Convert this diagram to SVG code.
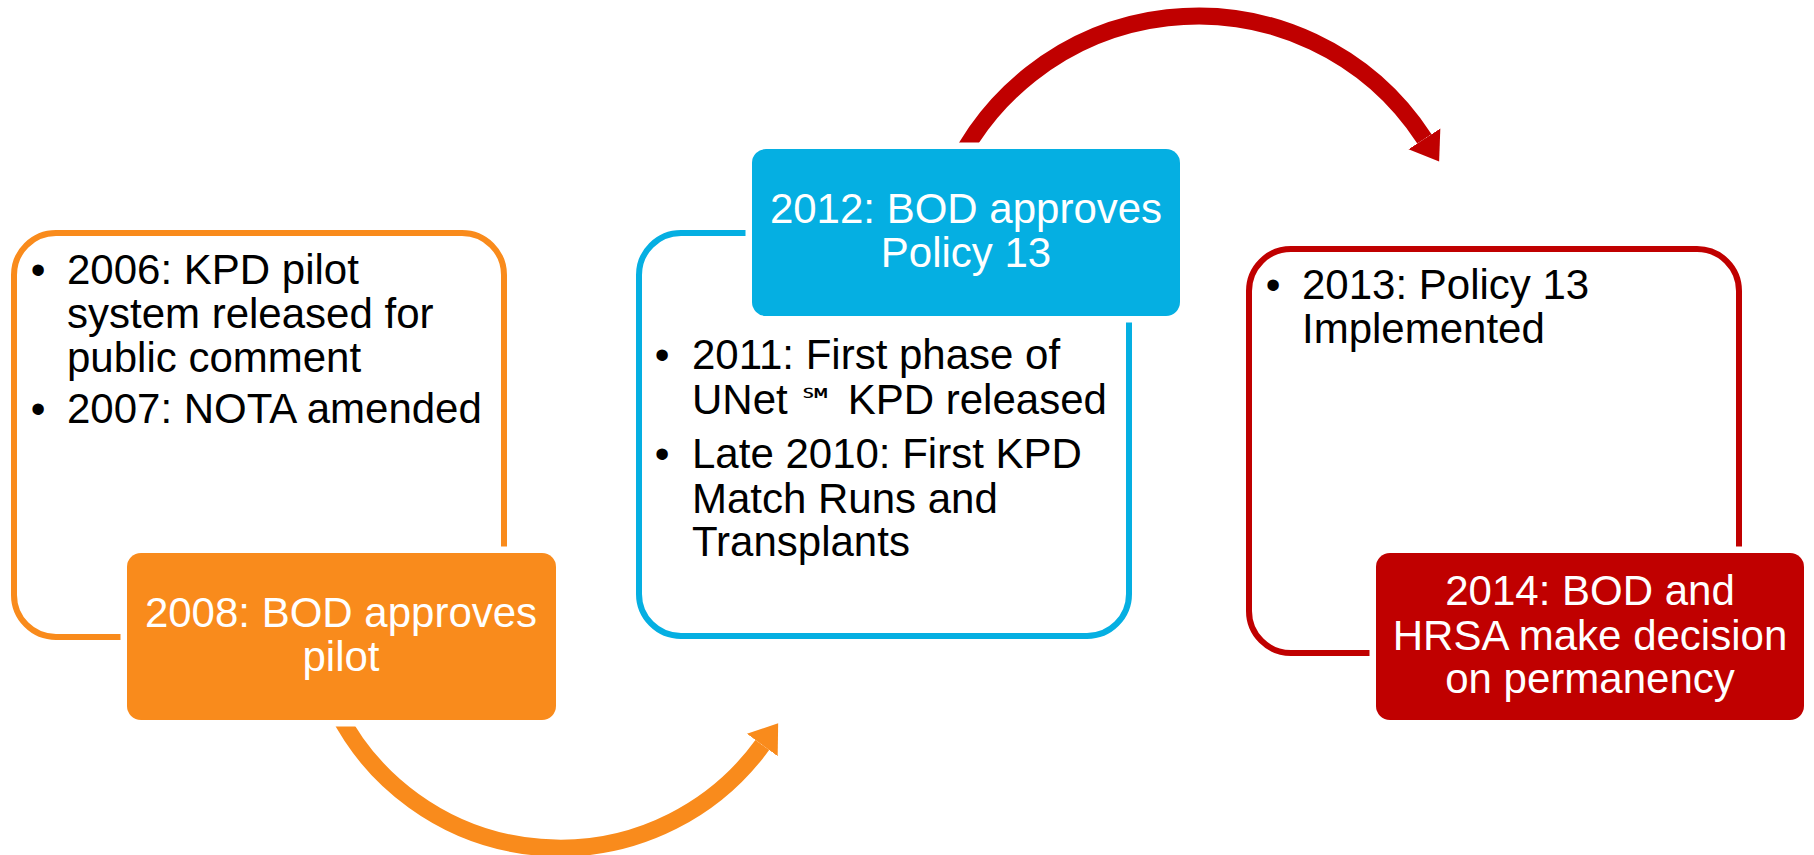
<svg xmlns="http://www.w3.org/2000/svg" width="1814" height="855" viewBox="0 0 1814 855">
  <style>
    text { font-family: "Liberation Sans", Arial, sans-serif; font-size: 42px; }
    .bul { fill: #000; }
    .ttl { fill: #fff; text-anchor: middle; }
    .dot { text-anchor: middle; }
    .outline { fill: #fff; stroke-width: 6; }
    .head { stroke: #fff; stroke-width: 13; paint-order: stroke; }
    .arc { fill: none; stroke-width: 17; }
  </style>
  <defs>
    <marker id="arrowOrange" markerUnits="userSpaceOnUse" orient="auto" viewBox="0 -20 30 40" refX="0" refY="0" markerWidth="30" markerHeight="40">
      <path d="M0,-19 L27,0 L0,19 Z" fill="#F98B1C"/>
    </marker>
    <marker id="arrowRed" markerUnits="userSpaceOnUse" orient="auto" viewBox="0 -20 30 40" refX="0" refY="0" markerWidth="30" markerHeight="40">
      <path d="M0,-19 L27,0 L0,19 Z" fill="#C00000"/>
    </marker>
  </defs>
  <rect width="1814" height="855" fill="#fff"/>

  <!-- Outline (detail) boxes -->
  <g id="orange-detail">
    <rect class="outline" x="14" y="233" width="490" height="404" rx="42" stroke="#F98B1C"/>
    <text class="bul dot" x="38" y="284">•</text>
    <text class="bul" x="67" y="284">2006: KPD pilot</text>
    <text class="bul" x="67" y="328">system released for</text>
    <text class="bul" x="67" y="372">public comment</text>
    <text class="bul dot" x="38" y="423">•</text>
    <text class="bul" x="67" y="423">2007: NOTA amended</text>
  </g>
  <g id="blue-detail">
    <rect class="outline" x="639" y="233" width="490" height="403" rx="42" stroke="#05AFE2"/>
    <text class="bul dot" x="662" y="369">•</text>
    <text class="bul" x="692" y="369">2011: First phase of</text>
    <text class="bul" x="692" y="414">UNet <tspan font-family="'DejaVu Sans', sans-serif" font-size="36">℠</tspan> KPD released</text>
    <text class="bul dot" x="662" y="468">•</text>
    <text class="bul" x="692" y="468">Late 2010: First KPD</text>
    <text class="bul" x="692" y="513">Match Runs and</text>
    <text class="bul" x="692" y="556">Transplants</text>
  </g>
  <g id="red-detail">
    <rect class="outline" x="1249" y="249" width="490" height="404" rx="42" stroke="#C00000"/>
    <text class="bul dot" x="1273" y="299">•</text>
    <text class="bul" x="1302" y="299">2013: Policy 13</text>
    <text class="bul" x="1302" y="343">Implemented</text>
  </g>

  <!-- Connectors -->
  <g id="connectors">
    <path class="arc" stroke="#F98B1C" d="M337.2,711.5 A250,250 0 0,0 762.3,745" marker-end="url(#arrowOrange)"/>
    <path class="arc" stroke="#C00000" d="M944.3,193.7 A270,270 0 0,1 1424.4,138.9" marker-end="url(#arrowRed)"/>
  </g>

  <!-- Milestone boxes -->
  <g id="orange-milestone">
    <rect class="head" x="127" y="553" width="429" height="167" rx="14" fill="#F98B1C"/>
    <text class="ttl" x="341" y="627">2008: BOD approves</text>
    <text class="ttl" x="341" y="671">pilot</text>
  </g>
  <g id="blue-milestone">
    <rect class="head" x="752" y="149" width="428" height="167" rx="14" fill="#05AFE2"/>
    <text class="ttl" x="966" y="223">2012: BOD approves</text>
    <text class="ttl" x="966" y="267">Policy 13</text>
  </g>
  <g id="red-milestone">
    <rect class="head" x="1376" y="553" width="428" height="167" rx="14" fill="#C00000"/>
    <text class="ttl" x="1590" y="605">2014: BOD and</text>
    <text class="ttl" x="1590" y="650">HRSA make decision</text>
    <text class="ttl" x="1590" y="693">on permanency</text>
  </g>
</svg>
